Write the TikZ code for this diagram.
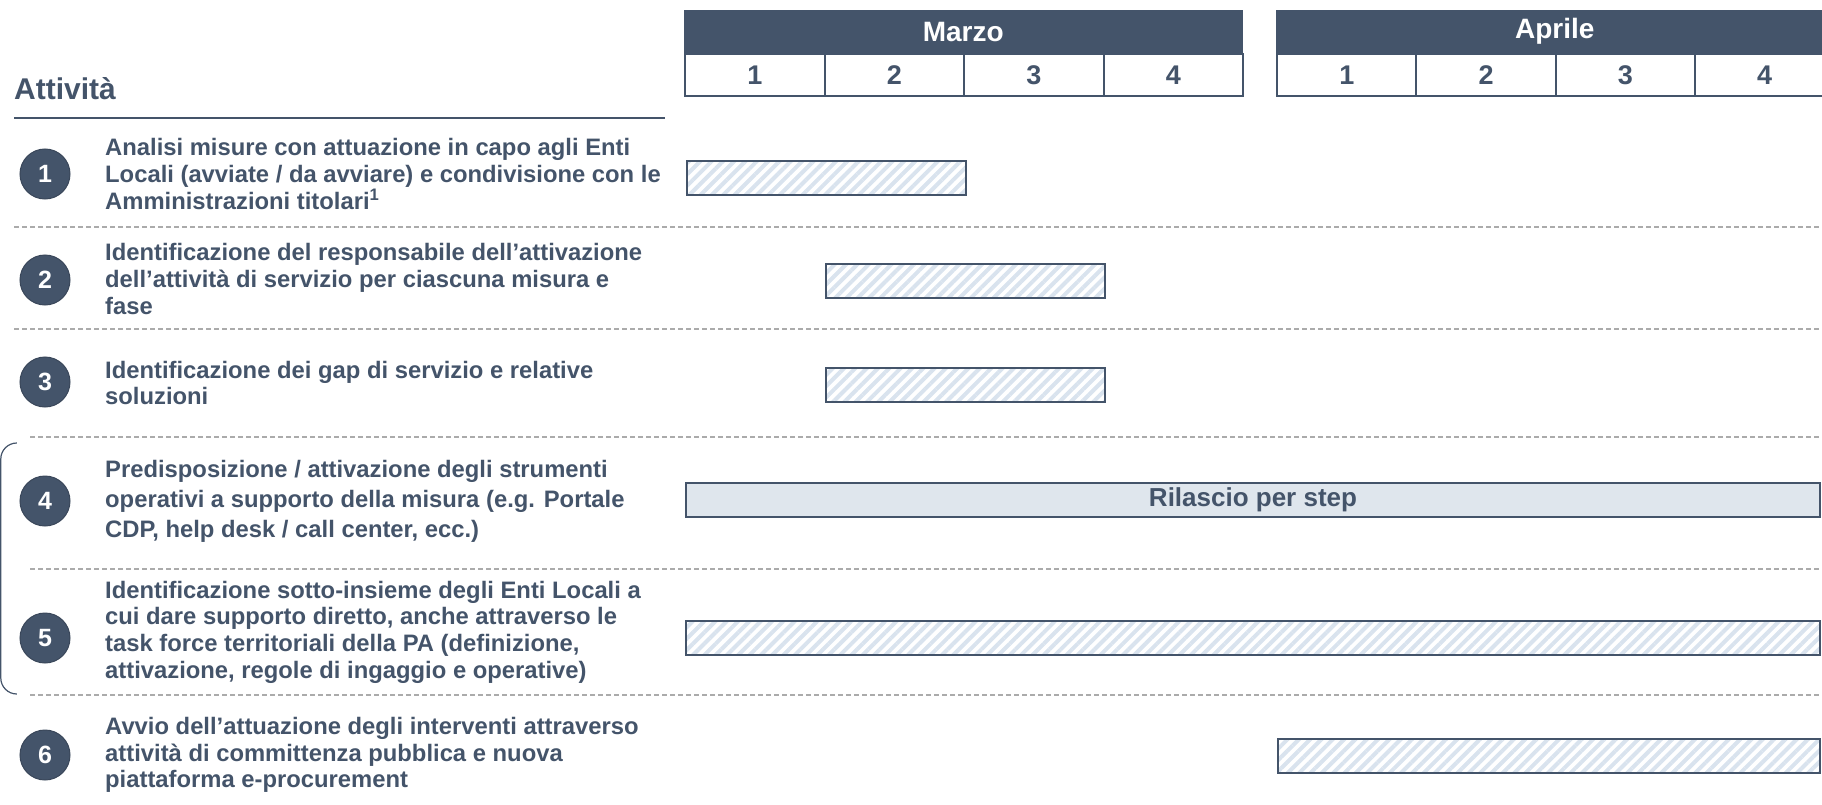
\documentclass[tikz,border=0pt]{standalone}
\usepackage{fontspec}
\setmainfont{Liberation Sans}
\usepackage{tikz}
\usetikzlibrary{patterns.meta}
\definecolor{slate}{HTML}{44546A}
\definecolor{hatchblue}{HTML}{D9E3EE}
\definecolor{lightslate}{HTML}{DFE6ED}
\definecolor{sepgray}{HTML}{ABABAB}

\begin{document}
\begin{tikzpicture}[x=1pt, y=-1pt,
    monthcell/.style={fill=slate, draw=slate, text=white, anchor=north west, inner sep=0pt,
      minimum height=43pt, font=\fontsize{28}{32}\selectfont\bfseries},
    weekcell/.style={fill=white, draw=slate, line width=2pt, text=slate, anchor=north west, inner sep=0pt,
      minimum width=139.5pt, minimum height=42pt, font=\fontsize{27}{30}\selectfont\bfseries},
    numdot/.style={circle, fill=slate, draw=slate!85!black, line width=1pt, text=white, inner sep=0pt,
      minimum size=50pt, font=\fontsize{25}{30}\selectfont\bfseries},
    acttext/.style={anchor=west, align=left, inner sep=0pt, text=slate,
      font=\fontsize{23.8}{26.7}\selectfont\bfseries},
    hatchbar/.style={draw=slate, line width=2pt, anchor=north west, inner sep=0pt, minimum height=34pt,
      pattern={Lines[angle=45, distance=8pt, line width=4pt]}, pattern color=hatchblue},
    sepline/.style={sepgray, line width=1.5pt, dash pattern=on 5pt off 3pt}]
    \useasboundingbox (0,0) rectangle (1822,805);

    %% Month headers
    \node[monthcell, minimum width=558pt] (marzo) at (684,10) {Marzo};
    \node[monthcell, minimum width=557pt] (aprile) at (1276,10) {Aprile};
    \node[weekcell] (m1) at (684,53) {1};
    \node[weekcell] (m2) at (823.5,53) {2};
    \node[weekcell] (m3) at (963,53) {3};
    \node[weekcell] (m4) at (1102.5,53) {4};
    \node[weekcell] (a1) at (1276,53) {1};
    \node[weekcell] (a2) at (1415.3,53) {2};
    \node[weekcell] (a3) at (1554.6,53) {3};
    \node[weekcell] (a4) at (1693.9,53) {4};

    %% Column title
    \node[anchor=base west, inner sep=0pt, text=slate, font=\fontsize{30}{34}\selectfont\bfseries] (title) at (14,100) {Attività};
    \draw[slate, line width=2pt] (14,118) -- (665,118);

    %% Side bracket
    \draw[slate, line width=1.2pt, rounded corners=16pt] (16,443) -- (0.8,443) -- (0.8,694) -- (16,694);

    %% Separators
    \draw[sepline] (14,227) -- (1822,227);
    \draw[sepline] (14,329) -- (1822,329);
    \draw[sepline] (30,437) -- (1822,437);
    \draw[sepline] (30,569) -- (1822,569);
    \draw[sepline] (30,695) -- (1822,695);

    %% Activities
    \node[numdot] (n1) at (45,174) {1};
    \node[acttext] (t1) at (105,174) {Analisi misure con attuazione in capo agli Enti\\Locali (avviate / da avviare) e condivisione con le\\Amministrazioni titolari\textsuperscript{1}};
    \node[numdot] (n2) at (45,280) {2};
    \node[acttext] (t2) at (105,279) {Identificazione del responsabile dell’attivazione\\dell’attività di servizio per ciascuna misura e\\fase};
    \node[numdot] (n3) at (45,382) {3};
    \node[acttext] (t3) at (105,383) {Identificazione dei gap di servizio e relative\\soluzioni};
    \node[numdot] (n4) at (45,501) {4};
    \node[acttext, font=\fontsize{23.8}{30}\selectfont\bfseries] (t4) at (105,501) {Predisposizione / attivazione degli strumenti\\operativi a supporto della misura (e.g. Portale\\CDP, help desk / call center, ecc.)};
    \node[numdot] (n5) at (45,638) {5};
    \node[acttext] (t5) at (105,632) {Identificazione sotto-insieme degli Enti Locali a\\cui dare supporto diretto, anche attraverso le\\task force territoriali della PA (definizione,\\attivazione, regole di ingaggio e operative)};
    \node[numdot] (n6) at (45,755) {6};
    \node[acttext] (t6) at (105,755) {Avvio dell’attuazione degli interventi attraverso\\attività di committenza pubblica e nuova\\piattaforma e-procurement};

    %% Gantt bars
    \node[hatchbar, minimum width=279pt] (bar1) at (685,159) {};
    \node[hatchbar, minimum width=279pt] (bar2) at (825,263) {};
    \node[hatchbar, minimum width=279pt] (bar3) at (825,367) {};
    \node[draw=slate, fill=lightslate, line width=2pt, anchor=north west, inner sep=0pt,
      minimum width=1134pt, minimum height=34pt, text=slate,
      font=\fontsize{26}{30}\selectfont\bfseries] (bar4) at (685,482) {Rilascio per step};
    \node[hatchbar, minimum width=1134pt] (bar5) at (685,620) {};
    \node[hatchbar, minimum width=542pt] (bar6) at (1277,738) {};
\end{tikzpicture}
\end{document}
